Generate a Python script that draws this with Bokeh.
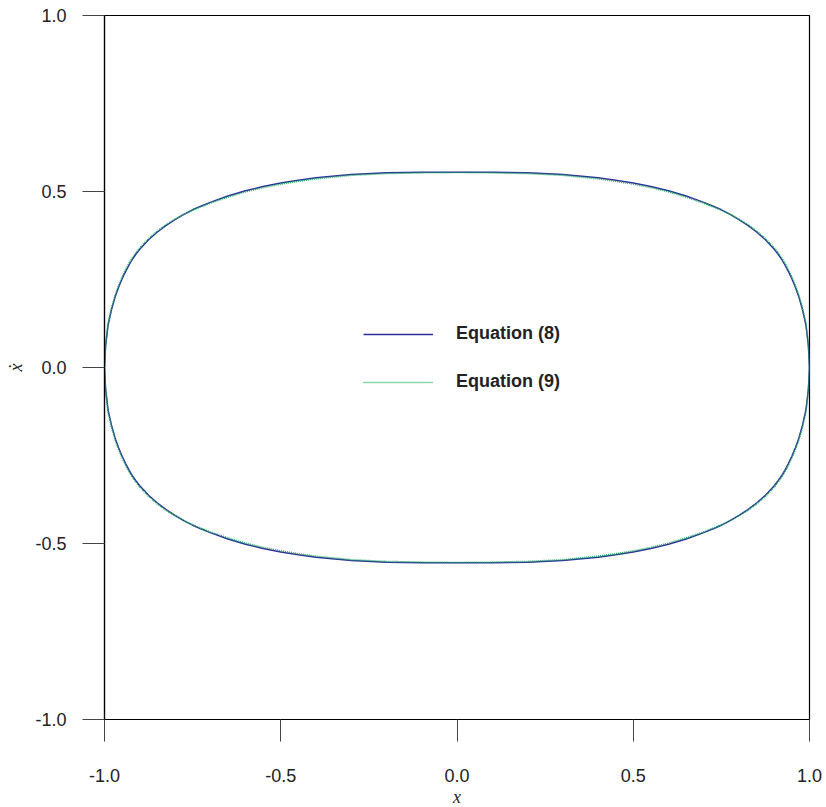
from bokeh.plotting import figure
from bokeh.models import Range1d, FixedTicker, Legend, LegendItem
from bokeh.embed import file_html
from bokeh.resources import INLINE

# x positions (shared) from -1 to 1
x_vals = [-1.0, -0.997, -0.99, -0.98, -0.97, -0.96, -0.95, -0.94, -0.93, -0.92, -0.91, -0.9,
          -0.875, -0.85, -0.825, -0.8, -0.775, -0.75, -0.725, -0.7, -0.65, -0.6, -0.55, -0.5,
          -0.45, -0.4, -0.3, -0.2, -0.1, 0.0, 0.1, 0.2, 0.3, 0.4, 0.45,
          0.5, 0.55, 0.6, 0.65, 0.7, 0.725, 0.75, 0.775, 0.8, 0.825, 0.85, 0.875,
          0.9, 0.91, 0.92, 0.93, 0.94, 0.95, 0.96, 0.97, 0.98, 0.99, 0.997, 1.0]

# Equation (8): upper and lower branches of xdot
eq8_upper = [0.0, 0.06, 0.12, 0.165, 0.2, 0.228, 0.252, 0.273, 0.292, 0.309, 0.323, 0.336,
             0.363, 0.385, 0.404, 0.420, 0.435, 0.448, 0.459, 0.469, 0.487, 0.502, 0.514, 0.524,
             0.532, 0.539, 0.548, 0.553, 0.555, 0.555, 0.555, 0.553, 0.548, 0.539, 0.532,
             0.524, 0.514, 0.502, 0.487, 0.469, 0.459, 0.448, 0.435, 0.420, 0.404, 0.385, 0.363,
             0.336, 0.323, 0.309, 0.292, 0.273, 0.252, 0.228, 0.2, 0.165, 0.12, 0.06, 0.0]
eq8_lower = [0.0, -0.06, -0.12, -0.165, -0.2, -0.228, -0.252, -0.273, -0.292, -0.309, -0.323, -0.336,
             -0.363, -0.385, -0.404, -0.420, -0.435, -0.448, -0.459, -0.469, -0.487, -0.502, -0.514, -0.524,
             -0.532, -0.539, -0.548, -0.553, -0.555, -0.555, -0.555, -0.553, -0.548, -0.539, -0.532,
             -0.524, -0.514, -0.502, -0.487, -0.469, -0.459, -0.448, -0.435, -0.420, -0.404, -0.385, -0.363,
             -0.336, -0.323, -0.309, -0.292, -0.273, -0.252, -0.228, -0.2, -0.165, -0.12, -0.06, 0.0]

# Equation (9)
eq9_upper = [0.0, 0.065, 0.125, 0.17, 0.205, 0.233, 0.257, 0.278, 0.297, 0.313, 0.327, 0.340,
             0.366, 0.388, 0.406, 0.421, 0.435, 0.447, 0.457, 0.467, 0.484, 0.499, 0.511, 0.521,
             0.529, 0.536, 0.546, 0.551, 0.553, 0.554, 0.553, 0.551, 0.546, 0.536, 0.529,
             0.521, 0.511, 0.499, 0.484, 0.467, 0.457, 0.447, 0.435, 0.421, 0.406, 0.388, 0.366,
             0.340, 0.327, 0.313, 0.297, 0.278, 0.257, 0.233, 0.205, 0.17, 0.125, 0.065, 0.0]
eq9_lower = [0.0, -0.065, -0.125, -0.17, -0.205, -0.233, -0.257, -0.278, -0.297, -0.313, -0.327, -0.340,
             -0.366, -0.388, -0.406, -0.421, -0.435, -0.447, -0.457, -0.467, -0.484, -0.499, -0.511, -0.521,
             -0.529, -0.536, -0.546, -0.551, -0.553, -0.554, -0.553, -0.551, -0.546, -0.536, -0.529,
             -0.521, -0.511, -0.499, -0.484, -0.467, -0.457, -0.447, -0.435, -0.421, -0.406, -0.388, -0.366,
             -0.340, -0.327, -0.313, -0.297, -0.278, -0.257, -0.233, -0.205, -0.17, -0.125, -0.065, 0.0]

tick_vals = [-1.0, -0.5, 0.0, 0.5, 1.0]
tick_labels = ["-1.0", "-0.5", "0.0", "0.5", "1.0"]
series_names = ["Equation (8)", "Equation (9)"]

p = figure(frame_width=705, frame_height=704, output_backend="svg", toolbar_location=None,
           x_range=Range1d(-1, 1), y_range=Range1d(-1, 1),
           min_border_left=104, min_border_right=17, min_border_top=15, min_border_bottom=88)

p.xgrid.visible = False
p.ygrid.visible = False
p.outline_line_color = "black"
p.outline_line_width = 1.2
p.background_fill_color = "white"
p.border_fill_color = "white"

for ax, labels in ((p.xaxis[0], tick_labels), (p.yaxis[0], tick_labels)):
    ax.ticker = FixedTicker(ticks=tick_vals)
    ax.major_label_overrides = {v: l for v, l in zip(tick_vals, labels)}
    ax.minor_tick_line_color = None
    ax.major_tick_in = 0
    ax.major_tick_out = 22
    ax.major_tick_line_color = "#444444"
    ax.axis_line_color = "black"
    ax.axis_line_width = 1.2
    ax.major_label_text_font = "Liberation Sans"
    ax.major_label_text_font_size = "18px"
    ax.major_label_text_color = "#222222"
    ax.axis_label_text_font = "Liberation Serif"
    ax.axis_label_text_font_style = "italic"
    ax.axis_label_text_font_size = "18px"
    ax.axis_label_text_color = "#222222"

p.xaxis[0].axis_label = "x"
p.xaxis[0].major_label_standoff = 27
p.xaxis[0].axis_label_standoff = 2
p.yaxis[0].axis_label = "ẋ"
p.yaxis[0].major_label_standoff = 16
p.yaxis[0].axis_label_standoff = 6
p.yaxis[0].major_label_orientation = "horizontal"

path_x = x_vals + x_vals[::-1]
eq8_path = eq8_upper + eq8_lower[::-1]
eq9_path = eq9_upper + eq9_lower[::-1]

r8 = p.line(path_x, eq8_path, line_color="#2e2e9e", line_width=1.5)
r9 = p.line(path_x, eq9_path, line_color="#1fae5e", line_width=1.6, line_dash="1 1")

legend = Legend(items=[LegendItem(label=series_names[0], renderers=[r8]),
                       LegendItem(label=series_names[1], renderers=[r9])],
                location=(259, 327))
legend.border_line_color = None
legend.background_fill_alpha = 0
legend.padding = 0
legend.margin = 0
legend.glyph_width = 70
legend.glyph_height = 20
legend.spacing = 27
legend.label_standoff = 23
legend.label_text_font = "Liberation Sans"
legend.label_text_font_style = "bold"
legend.label_text_font_size = "18px"
legend.label_text_color = "#222222"
p.add_layout(legend, "center")

open("out.html", "w").write(file_html(p, INLINE))
